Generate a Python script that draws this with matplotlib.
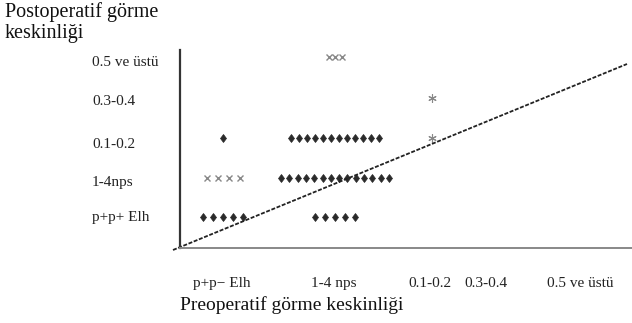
import matplotlib
matplotlib.use("Agg")
import matplotlib.pyplot as plt

# ---- data ----
pre_labels = ["p+p\u2212 Elh", "1-4 nps", "0.1-0.2", "0.3-0.4", "0.5 ve \u00fcst\u00fc"]
post_labels = ["p+p+ Elh", "1-4nps", "0.1-0.2", "0.3-0.4", "0.5 ve \u00fcst\u00fc"]
# (pre index, post index, count, symbol)
cell_pre = [0, 1, 0, 1, 0, 1, 2, 2, 1]
cell_post = [0, 0, 1, 1, 2, 2, 2, 3, 4]
cell_count = [5, 5, 4, 14, 1, 12, 1, 1, 3]
cell_symbol = ["diamond", "diamond", "cross", "diamond", "diamond", "diamond", "star", "star", "cross"]

# ---- layout (pixel-like data units) ----
W, H = 632, 323
ax_left, ax_right, ax_bottom, ax_top = 180, 632, 248, 50
col_centers = [43, 155, 252, 306, 400]
col_label_pos = [42, 154, 250, 306, 400]
row_centers = [31, 70, 110, 150, 191]
row_label_pos = [32, 67, 105, 148, 187]
row_spacing = [10, 8.3, 8, 8, 7]
cross_spacing = 11
diag_x = [-7, 447]
diag_y = [-2, 184]

plt.rcParams["font.family"] = ["Liberation Serif", "DejaVu Serif"]
fig = plt.figure(figsize=(W / 100, H / 100), dpi=100)
ax = fig.add_axes([ax_left / W, (H - ax_bottom) / H,
                   (ax_right - ax_left) / W, (ax_bottom - ax_top) / H])
ax.set_xlim(0, ax_right - ax_left)
ax.set_ylim(0, ax_bottom - ax_top)

for s in ["top", "right"]:
    ax.spines[s].set_visible(False)
ax.spines["left"].set_color("#333333")
ax.spines["left"].set_linewidth(1.6)
ax.spines["bottom"].set_color("#888888")
ax.spines["bottom"].set_linewidth(1.4)

styles = {
    "diamond": dict(marker="d", ms=4.5, color="#2a2a2a", mew=0.5),
    "cross": dict(marker="x", ms=4, color="#888888", mew=1.0),
    "star": dict(marker=(6, 2, 0), ms=6, color="#888888", mew=0.8),
}
for p, q, n, sym in zip(cell_pre, cell_post, cell_count, cell_symbol):
    sp = cross_spacing if sym == "cross" else row_spacing[q]
    if sym == "cross" and q == 4:
        sp = 6.5
    xs = [col_centers[p] + (i - (n - 1) / 2) * sp for i in range(n)]
    ys = [row_centers[q]] * n
    ax.plot(xs, ys, linestyle="none", **styles[sym])

ax.plot(diag_x, diag_y, color="#222222", lw=1.3, linestyle=(0, (2.2, 0.9)), clip_on=False)

ax.set_xticks(col_label_pos)
ax.set_xticklabels(pre_labels, fontsize=11, color="#222222")
ax.tick_params(axis="x", length=0, pad=21)
ax.set_yticks(row_label_pos)
ax.set_yticklabels(post_labels, fontsize=11, color="#222222")
for lbl in ax.get_yticklabels():
    lbl.set_horizontalalignment("left")
ax.tick_params(axis="y", length=0, pad=(ax_left - 92) * 0.72)

fig.text(180 / W, 1 - 305 / H, "Preoperatif g\u00f6rme keskinli\u011fi", fontsize=14,
         ha="left", va="center", color="#111111")
fig.text(5 / W, 1 - 2 / H, "Postoperatif g\u00f6rme\nkeskinli\u011fi", fontsize=14.5,
         ha="left", va="top", color="#111111", linespacing=1.15)

fig.savefig("out.png", dpi=100)
